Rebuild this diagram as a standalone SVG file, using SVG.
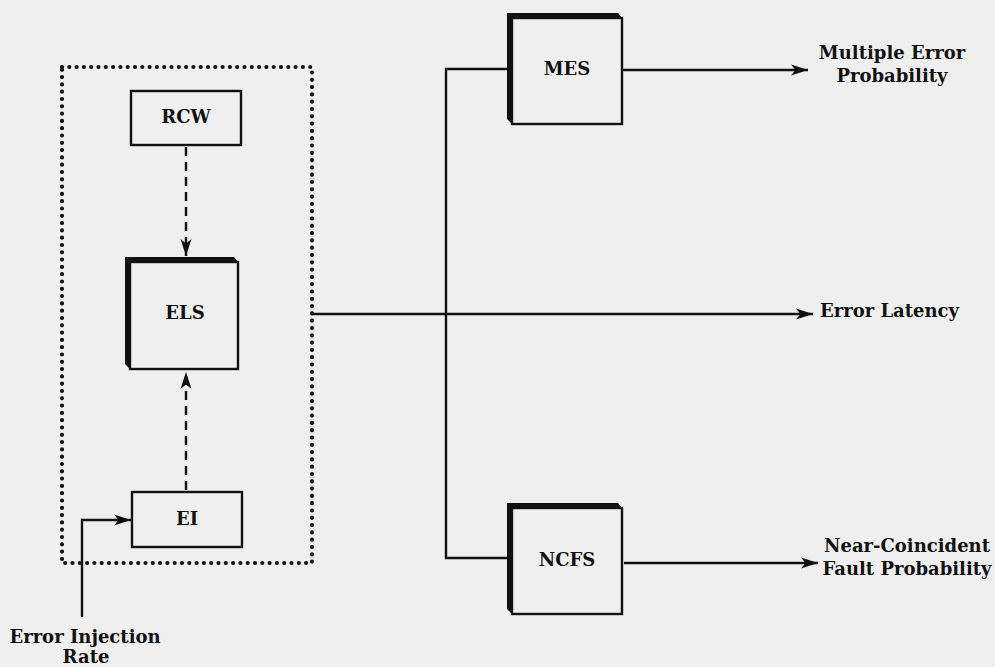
<svg xmlns="http://www.w3.org/2000/svg" width="995" height="667" viewBox="0 0 995 667">
<defs>
<style>
.lbl{font-family:"DejaVu Serif","Liberation Serif",serif;font-weight:bold;font-size:18px;fill:#111;text-anchor:middle}
.box{fill:none;stroke:#111;stroke-width:2.4}
.shade{fill:#111}
.ln{fill:none;stroke:#111;stroke-width:2.4}
.dash{fill:none;stroke:#111;stroke-width:2.4;stroke-dasharray:9 6}
.dots{fill:none;stroke:#111;stroke-width:4.2;stroke-linecap:round;stroke-dasharray:0 7.3}
</style>
<marker id="ah" viewBox="0 0 18 12" refX="17" refY="6" markerWidth="18" markerHeight="12" markerUnits="userSpaceOnUse" orient="auto">
<path d="M0,0.5 L17,6 L0,11.5 L4.5,6 Z" fill="#111"/>
</marker>
</defs>
<rect width="995" height="667" fill="#efefef"/>

<g id="group-box">
<rect x="62" y="67" width="250" height="496" class="dots"/>
</g>

<g id="connectors">
<path d="M186,147 V256" class="dash" marker-end="url(#ah)"/>
<path d="M186,490 V372" class="dash" marker-end="url(#ah)"/>
<path d="M82,617 V520 H131" class="ln" marker-end="url(#ah)"/>
<path d="M312,314 H813" class="ln" marker-end="url(#ah)"/>
<path d="M507,69 H446 V558 H507" class="ln"/>
<path d="M622,70 H808" class="ln" marker-end="url(#ah)"/>
<path d="M624,563 H818" class="ln" marker-end="url(#ah)"/>
</g>

<g id="RCW">
<rect x="131" y="91" width="110" height="54" class="box"/>
<text x="186" y="123" class="lbl">RCW</text>
</g>

<g id="ELS">
<path d="M125,257 H234 L238,262 H130 V369 L125,364 Z" class="shade"/>
<rect x="130" y="262" width="108" height="107" class="box"/>
<text x="185" y="319" class="lbl">ELS</text>
</g>

<g id="EI">
<rect x="132" y="492" width="110" height="55" class="box"/>
<text x="187" y="525" class="lbl">EI</text>
</g>

<g id="MES">
<path d="M507,13 H618 L622,18 H512 V124 L507,119 Z" class="shade"/>
<rect x="512" y="18" width="110" height="106" class="box"/>
<text x="567" y="75" class="lbl">MES</text>
</g>

<g id="NCFS">
<path d="M507,503 H618 L622,508 H512 V614 L507,609 Z" class="shade"/>
<rect x="512" y="508" width="110" height="106" class="box"/>
<text x="567" y="566" class="lbl">NCFS</text>
</g>

<g id="labels">
<text x="892" y="59" class="lbl">Multiple Error</text>
<text x="892" y="82" class="lbl">Probability</text>
<text x="820" y="317" class="lbl" style="text-anchor:start">Error Latency</text>
<text x="907" y="552" class="lbl">Near-Coincident</text>
<text x="907" y="575" class="lbl">Fault Probability</text>
<text x="85" y="643" class="lbl">Error Injection</text>
<text x="86" y="663" class="lbl">Rate</text>
</g>
</svg>
